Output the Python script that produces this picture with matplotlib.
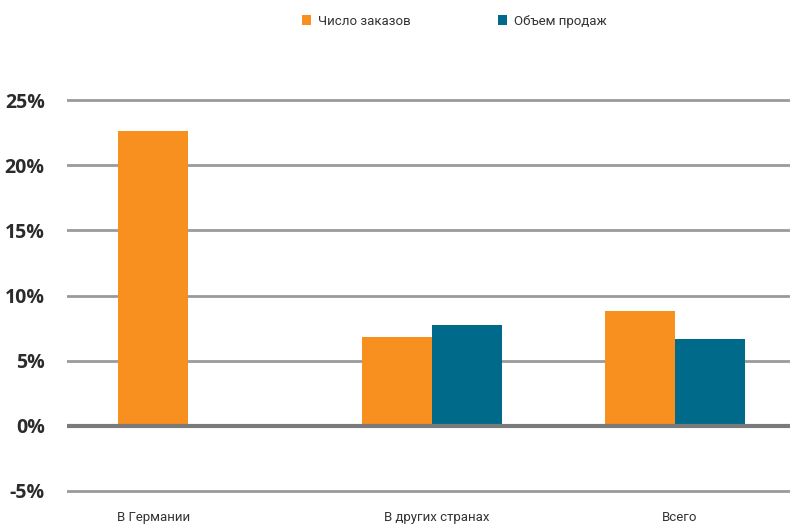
import matplotlib
matplotlib.use("Agg")
import matplotlib.pyplot as plt
import numpy as np

categories = ["В Германии", "В других странах", "Всего"]
series_names = ["Число заказов", "Объем продаж"]
orders = [22.6, 6.8, 8.8]
sales = [0.0, 7.7, 6.7]
yticks = [-5, 0, 5, 10, 15, 20, 25]
ytick_labels = ["-5%", "0%", "5%", "10%", "15%", "20%", "25%"]

c_orange = "#F7901E"
c_teal = "#006A8B"
narrow = ["Roboto", "DejaVu Sans"]

fig = plt.figure(figsize=(7.9, 5.28), dpi=100)
ax = fig.add_axes([67/790, 1 - 497.5/528, 1 - 67/790, 404/528])

x = np.arange(len(categories))
w = 0.2875
ax.bar(x - w/2, orders, w, color=c_orange, label=series_names[0], zorder=3)
ax.bar(x + w/2, sales, w, color=c_teal, label=series_names[1], zorder=3)

ax.set_xlim(-0.497, 2.472)
ax.set_ylim(-5.5, 25.5)
for v in yticks:
    if v == 0:
        ax.axhline(v, color="#7a7a7a", lw=3, zorder=4)
    else:
        ax.axhline(v, color="#9a9a9a", lw=2, zorder=1)

ax.set_yticks(yticks)
ax.set_yticklabels(ytick_labels, fontsize=14, fontweight="bold", color="#2b2b2b", family=["Open Sans", "DejaVu Sans"])
ax.tick_params(axis="y", length=0, pad=16)
ax.set_xticks([-0.14, 1.02, 2.02])
ax.set_xticklabels(categories, fontsize=9.5, color="#333333", family=narrow)
ax.tick_params(axis="x", length=0, pad=10)
for s in ax.spines.values():
    s.set_visible(False)

leg = fig.legend(loc="upper center", bbox_to_anchor=(0.575, 0.995), ncol=2, frameon=False,
                 prop={"family": narrow, "size": 9.5}, handlelength=0.7, handleheight=0.7,
                 columnspacing=6.6, handletextpad=0.5)
for t in leg.get_texts():
    t.set_color("#333333")

fig.savefig("out.png", dpi=100)
